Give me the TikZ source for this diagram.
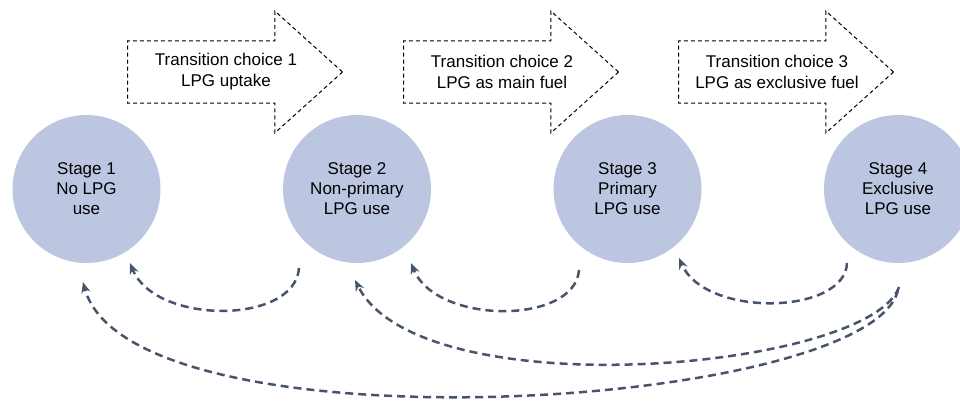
\documentclass[tikz,border=0pt]{standalone}
\usepackage{fontspec}
\setmainfont{Liberation Sans}
\usetikzlibrary{shapes.arrows,arrows.meta,calc}
\definecolor{stagefill}{RGB}{188,198,224}
\definecolor{backline}{RGB}{70,85,108}
\tikzset{
  stage/.style={circle,fill=stagefill,minimum size=148pt,inner sep=0pt,align=center,font=\fontsize{17}{20}\selectfont},
  choice/.style={single arrow,draw=black,line width=1pt,dash pattern=on 4pt off 3pt,minimum height=215pt,minimum width=121pt,single arrow head extend=30pt,single arrow tip angle=84,inner xsep=0pt,inner ysep=30.5pt,anchor=tail},
  choicetext/.style={align=center,font=\fontsize{17}{21}\selectfont},
  back/.style={draw=backline,line width=2.5pt,dash pattern=on 8pt off 5pt,-{Stealth[length=11pt,width=9pt]}},
}

\begin{document}
\begin{tikzpicture}[x=1pt,y=-1pt]
    \useasboundingbox (0,0) rectangle (960,404);
    % stages
    \node[stage](s1)at(86.5,189){Stage 1\\No LPG\\use};
    \node[stage](s2)at(357,189){Stage 2\\Non-primary\\LPG use};
    \node[stage](s3)at(627.5,189){Stage 3\\Primary\\LPG use};
    \node[stage](s4)at(898,189){Stage 4\\Exclusive\\LPG use};
    % transition choices
    \node[choice](c1)at(127,72){};
    \node[choice](c2)at(403,72){};
    \node[choice](c3)at(678,72){};
    \node[choicetext](t1)at(226,72){Transition choice 1\\LPG uptake};
    \node[choicetext](t2)at(502,72){Transition choice 2\\LPG as main fuel};
    \node[choicetext](t3)at(777,72){Transition choice 3\\LPG as exclusive fuel};
    % steps back
    \draw[back]($(s2.center)+(-58,79)$)..controls(295,325)and(155,325)..($(s1.center)+(43.5,74)$);
    \draw[back]($(s3.center)+(-48.5,81)$)..controls(575,325)and(436,325)..($(s2.center)+(54,74)$);
    \draw[back]($(s4.center)+(-51,74)$)..controls(845,315)and(705,318)..($(s3.center)+(51.5,69)$);
    \draw[back]($(s4.center)+(1,98)$)..controls(870,370)and(420,410)..($(s2.center)+(-2,91)$);
    \draw[back]($(s4.center)+(0,101)$)..controls(870,410)and(130,455)..($(s1.center)+(-3.5,93)$);
\end{tikzpicture}
\end{document}
